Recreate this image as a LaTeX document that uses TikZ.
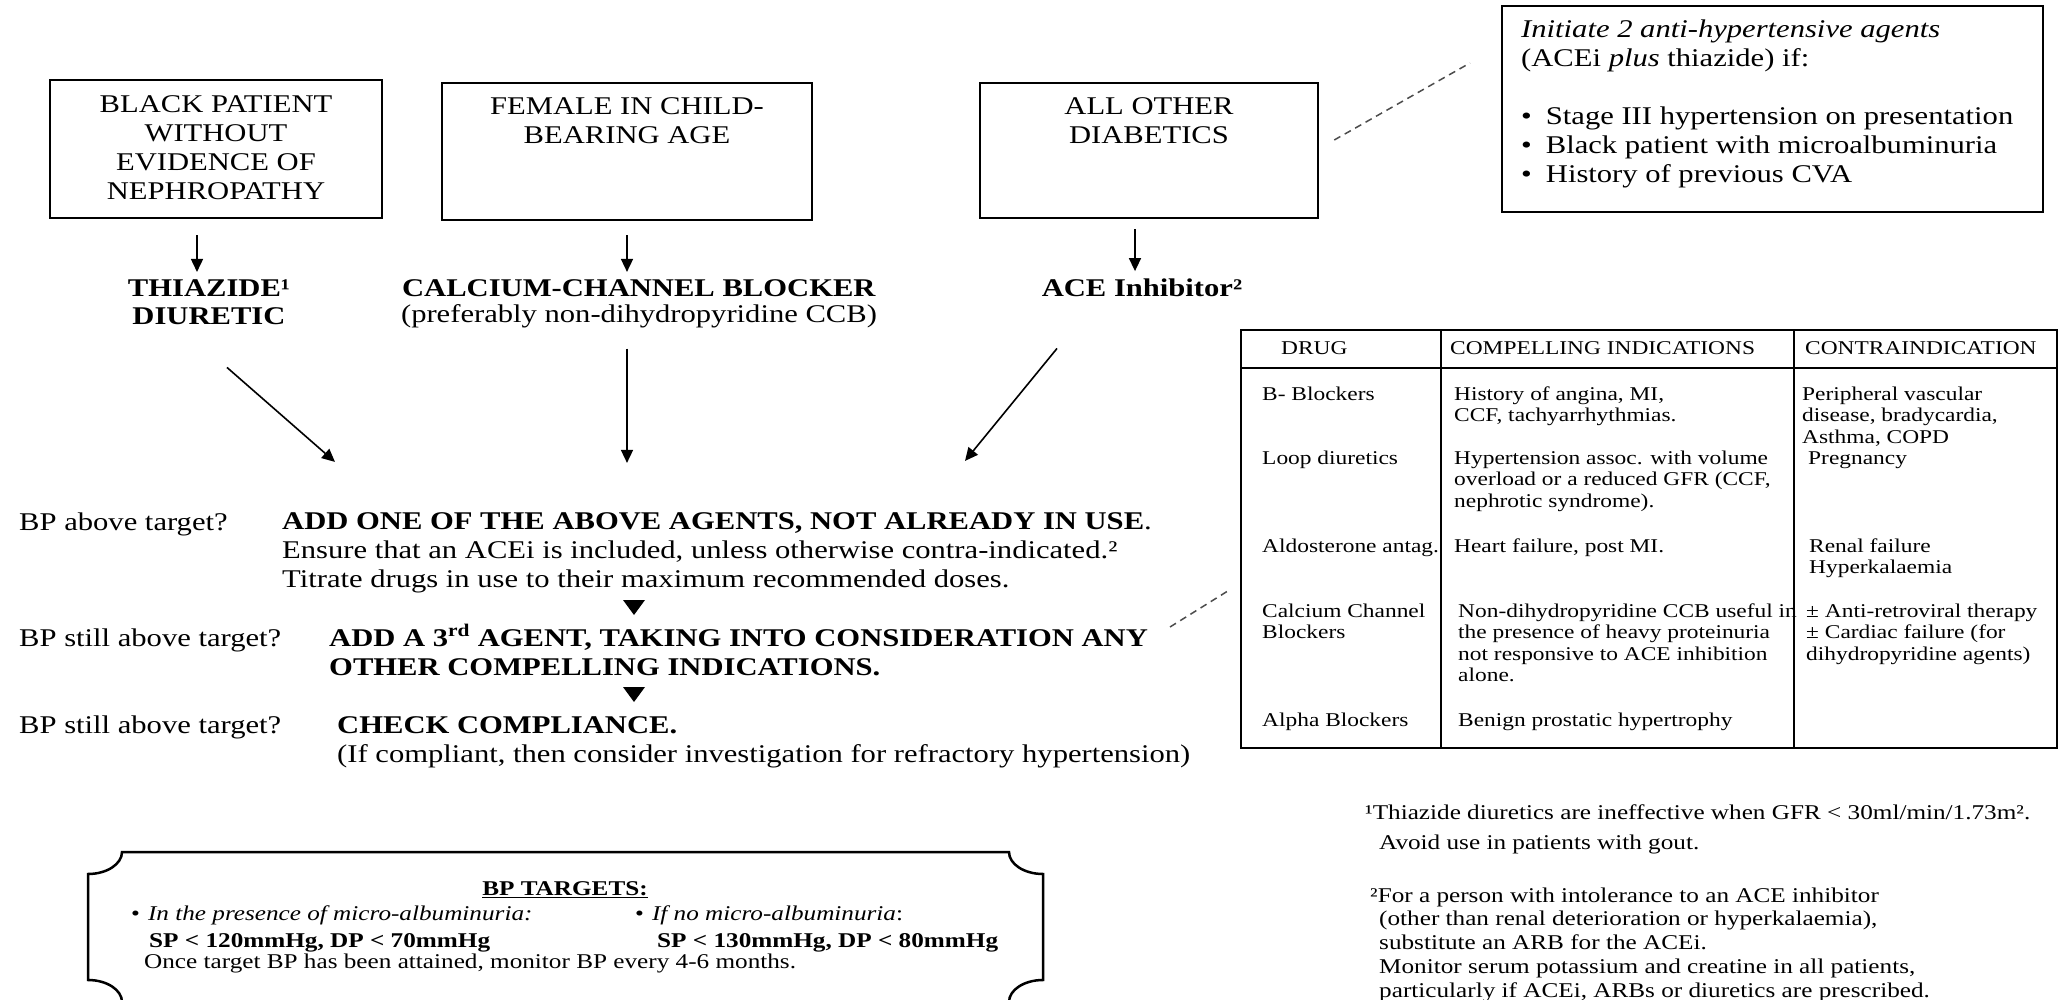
\documentclass[tikz,border=0pt]{standalone}
\usepackage{fontspec}
\setmainfont{Liberation Serif}[FakeStretch=1.2]
\usetikzlibrary{arrows.meta}

\tikzset{
  condbox/.style={draw, line width=2.5pt, inner sep=0pt},
  maintxt/.style={inner sep=0pt, font=\fontsize{25.5}{29}\selectfont},
  tabtxt/.style={inner sep=0pt, anchor=base west, align=left, font=\fontsize{19.5}{21.5}\selectfont},
  plaquetxt/.style={inner sep=0pt, anchor=base west, font=\fontsize{21}{25}\selectfont},
  notetxt/.style={inner sep=0pt, anchor=base west, align=left, font=\fontsize{21}{23.7}\selectfont},
  arr/.style={->, line width=1.6pt},
  dashline/.style={dashed, line width=1.5pt, black!70, dash pattern=on 7pt off 5pt},
  tabline/.style={line width=2pt}
}

\begin{document}
\begin{tikzpicture}[x=1pt, y=-1pt, >={Triangle[length=13pt,width=12pt]}]
  \useasboundingbox (0,0) rectangle (2065,1000);

  % Patient groups (multi-line texts sit on their last baseline)
  \node[condbox, minimum width=332pt, minimum height=138pt] (blackbox) at (216,149) {};
  \node[condbox, minimum width=370pt, minimum height=137pt] (femalebox) at (627,151.5) {};
  \node[condbox, minimum width=338pt, minimum height=135pt] (otherbox) at (1149,150.5) {};
  \node[maintxt, anchor=base, align=center] (blacktxt) at (216,200) {BLACK PATIENT\\WITHOUT\\EVIDENCE OF\\NEPHROPATHY};
  \node[maintxt, anchor=base, align=center] (femaletxt) at (627,144) {FEMALE IN CHILD-\\BEARING AGE};
  \node[maintxt, anchor=base, align=center] (othertxt) at (1149,144) {ALL OTHER\\DIABETICS};

  % Two agents at once
  \node[draw, line width=2pt, minimum width=541pt, minimum height=206pt] (initbox) at (1772.5,109) {};
  \node[maintxt, anchor=base west, align=left] (inittxt) at (1521,183)
    {\textit{Initiate 2 anti-hypertensive agents}\\
     (ACEi \textit{plus} thiazide) if:\\[29pt]
     •\hspace{14pt}Stage III hypertension on presentation\\
     •\hspace{14pt}Black patient with microalbuminuria\\
     •\hspace{14pt}History of previous CVA};
  \draw[dashline] ([shift={(15,-10.5)}]otherbox.east) -- ([shift={(-31,-46)}]initbox.west);

  % First agent
  \node[maintxt, anchor=base, align=center, font=\fontsize{25.5}{28}\selectfont\bfseries] (thiazide) at (209,325) {THIAZIDE¹\\DIURETIC};
  \node[maintxt, anchor=base, align=center, font=\fontsize{25.5}{26}\selectfont] (ccb) at (639,323) {\textbf{CALCIUM-CHANNEL BLOCKER}\\(preferably non-dihydropyridine CCB)};
  \node[maintxt, anchor=base, font=\fontsize{25.5}{29}\selectfont\bfseries] (acei) at (1142,297) {ACE Inhibitor²};

  \draw[arr] ([xshift=-19pt,yshift=-16pt]blackbox.south) -- ([xshift=-12pt,yshift=8pt]thiazide.north);
  \draw[arr] ([yshift=-14pt]femalebox.south) -- ([xshift=-12pt,yshift=8pt]ccb.north);
  \draw[arr] ([xshift=-14pt,yshift=-10pt]otherbox.south) -- ([xshift=-7pt,yshift=8pt]acei.north);

  % Steps
  \node[maintxt, anchor=base west] (step1q) at (19,530) {BP above target?};
  \node[maintxt, anchor=base west, align=left] (addone) at (282,587)
    {\textbf{ADD ONE OF THE ABOVE AGENTS, NOT ALREADY IN USE}.\\
     Ensure that an ACEi is included, unless otherwise contra-indicated.²\\
     Titrate drugs in use to their maximum recommended doses.};
  \draw[arr] ([xshift=18pt,yshift=-42pt]thiazide.south) -- ([shift={(53,-50)}]addone.north west);
  \draw[arr] ([xshift=-12pt,yshift=-20pt]ccb.south) -- ([shift={(345,-49)}]addone.north west);
  \draw[arr] ([xshift=-85pt,yshift=-51pt]acei.south) -- ([shift={(683,-51)}]addone.north west);

  \fill (623,600) -- (645,600) -- (634,615) -- cycle;

  \node[maintxt, anchor=base west] (step2q) at (19,646) {BP still above target?};
  \node[maintxt, anchor=base west, align=left, font=\fontsize{25.5}{29}\selectfont\bfseries] (addthird) at (329,675)
    {ADD A 3\textsuperscript{rd} AGENT, TAKING INTO CONSIDERATION ANY\\
     OTHER COMPELLING INDICATIONS.};

  \fill (623,687) -- (645,687) -- (634,702) -- cycle;

  \node[maintxt, anchor=base west] (step3q) at (19,733) {BP still above target?};
  \node[maintxt, anchor=base west, align=left] (compliance) at (337,762)
    {\textbf{CHECK COMPLIANCE.}\\
     (If compliant, then consider investigation for refractory hypertension)};

  % Drug table
  \node[draw, tabline, minimum width=816pt, minimum height=418pt] (drugtab) at (1649,539) {};
  \draw[tabline] (1241,368) -- (2057,368);
  \draw[tabline] (1441,330) -- (1441,748);
  \draw[tabline] (1794,330) -- (1794,748);
  \coordinate (anyend) at (1170,627);
  \draw[dashline] (anyend) -- ([shift={(-9,50)}]drugtab.west);

  \node[tabtxt] (hdrug) at (1281,355) {DRUG};
  \node[tabtxt] (hind) at (1450,355) {COMPELLING INDICATIONS};
  \node[tabtxt] (hcontra) at (1805,355) {CONTRAINDICATION};

  \node[tabtxt] (bblock) at (1262,400) {B- Blockers};
  \node[tabtxt] (loop) at (1262,464) {Loop diuretics};
  \node[tabtxt] (aldo) at (1262,552) {Aldosterone antag.};
  \node[tabtxt] (calc) at (1262,638.5) {Calcium Channel\\Blockers};
  \node[tabtxt] (alpha) at (1262,726) {Alpha Blockers};

  \node[tabtxt] (bblockind) at (1454,421.5) {History of angina, MI,\\CCF, tachyarrhythmias.};
  \node[tabtxt] (loopind) at (1454,507) {Hypertension assoc. with volume\\overload or a reduced GFR (CCF,\\nephrotic syndrome).};
  \node[tabtxt] (aldoind) at (1454,552) {Heart failure, post MI.};
  \node[tabtxt] (calcind) at (1458,681.5) {Non-dihydropyridine CCB useful in\\the presence of heavy proteinuria\\not responsive to ACE inhibition\\alone.};
  \node[tabtxt] (alphaind) at (1458,726) {Benign prostatic hypertrophy};

  \node[tabtxt] (bblockcon) at (1802,443) {Peripheral vascular\\disease, bradycardia,\\Asthma, COPD};
  \node[tabtxt] (loopcon) at (1808,464) {Pregnancy};
  \node[tabtxt] (aldocon) at (1809,573.5) {Renal failure\\Hyperkalaemia};
  \node[tabtxt] (calccon) at (1806,660) {± Anti-retroviral therapy\\± Cardiac failure (for\\dihydropyridine agents)};

  % BP targets
  \draw[line width=2.5pt] (122,852) -- (1009,852) .. controls (1009,864) and (1024,874) .. (1043,874)
    -- (1043,980) .. controls (1024,980) and (1009,990) .. (1009,1002)
    -- (122,1002) .. controls (122,990) and (107,980) .. (88,980)
    -- (88,874) .. controls (107,874) and (122,864) .. (122,852) -- cycle;
  \node[plaquetxt, anchor=base] (targets) at (565,895) {\textbf{\underline{BP TARGETS:}}};
  \node[plaquetxt] (microyes) at (131,920) {•\hspace{8pt}\textit{In the presence of micro-albuminuria:}};
  \node[plaquetxt] (microno) at (635,920) {•\hspace{8pt}\textit{If no micro-albuminuria}:};
  \node[plaquetxt] (targetyes) at (149,947) {\textbf{SP < 120mmHg, DP < 70mmHg}};
  \node[plaquetxt] (targetno) at (657,947) {\textbf{SP < 130mmHg, DP < 80mmHg}};
  \node[plaquetxt] (monitor) at (144,968) {Once target BP has been attained, monitor BP every 4-6 months.};

  % Footnotes
  \node[notetxt] (note1) at (1365,849)
    {¹Thiazide diuretics are ineffective when GFR < 30ml/min/1.73m².\\[6pt]
     \hspace*{14pt}Avoid use in patients with gout.};
  \node[notetxt] (note2) at (1370,997)
    {²For a person with intolerance to an ACE inhibitor\\
     \hspace*{9pt}(other than renal deterioration or hyperkalaemia),\\
     \hspace*{9pt}substitute an ARB for the ACEi.\\
     \hspace*{9pt}Monitor serum potassium and creatine in all patients,\\
     \hspace*{9pt}particularly if ACEi, ARBs or diuretics are prescribed.};
\end{tikzpicture}
\end{document}
